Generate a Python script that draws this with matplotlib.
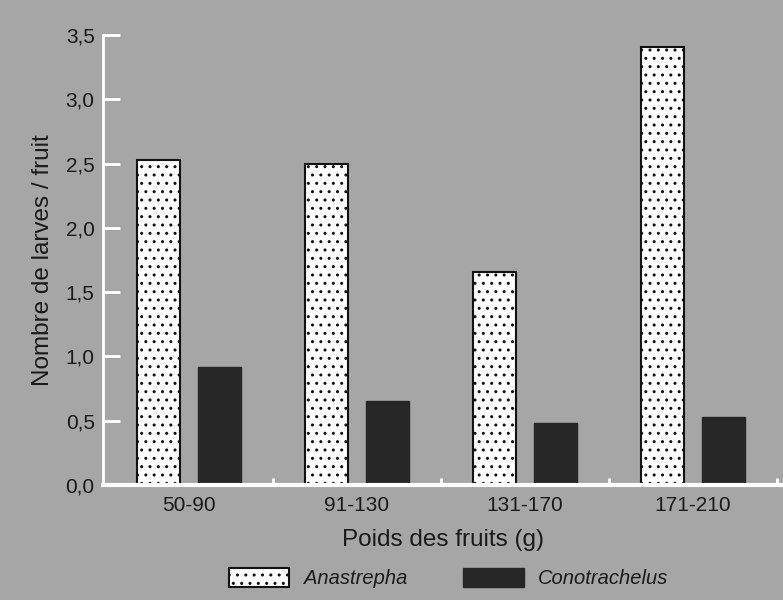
import matplotlib
matplotlib.use("Agg")
import matplotlib.pyplot as plt
import numpy as np

classes = ["50-90", "91-130", "131-170", "171-210"]
anastrepha = [2.53, 2.50, 1.66, 3.41]
conotrachelus = [0.92, 0.65, 0.48, 0.53]
yticks = [0.0, 0.5, 1.0, 1.5, 2.0, 2.5, 3.0, 3.5]

plt.rcParams['font.family'] = ['Liberation Sans', 'DejaVu Sans']
plt.rcParams['hatch.linewidth'] = 1.0

bg = '#a6a6a6'
fig = plt.figure(figsize=(7.83, 6.0), dpi=100, facecolor=bg)
ax = fig.add_axes([0.1315, 0.1917, 0.8685, 0.75])
ax.set_facecolor(bg)

x = np.arange(len(classes))
w = 0.256
ax.bar(x - 0.18, anastrepha, w, facecolor='white', edgecolor='#111111',
       linewidth=1.5, hatch='..', label='Anastrepha')
ax.bar(x + 0.18, conotrachelus, w, facecolor='#262626', edgecolor='#262626',
       label='Conotrachelus')

ax.set_xlim(-0.512, 3.536)
ax.set_ylim(0, 3.5)
ax.set_yticks(yticks)
ax.set_yticklabels([f"{v:.1f}".replace('.', ',') for v in yticks], fontsize=15, color='#1a1a1a')
ax.set_xticks(x)
ax.set_xticklabels(classes, fontsize=15, color='#1a1a1a')
ax.set_xticks(x + 0.5, minor=True)
ax.tick_params(axis='y', direction='in', length=12, width=2, colors='white', labelcolor='#1a1a1a', pad=6)
ax.tick_params(axis='x', which='major', length=0, pad=8)
ax.tick_params(axis='x', which='minor', direction='in', length=5, width=2, colors='white')

for s in ['top', 'right']:
    ax.spines[s].set_visible(False)
ax.spines['left'].set_color('white')
ax.spines['left'].set_linewidth(2)
ax.spines['bottom'].set_color('white')
ax.spines['bottom'].set_linewidth(3)

ax.set_xlabel('Poids des fruits (g)', fontsize=17.5, color='#1a1a1a', labelpad=10)
ax.set_ylabel('Nombre de larves / fruit', fontsize=17.5, color='#1a1a1a', labelpad=8)

handles, labels = ax.get_legend_handles_labels()
leg = fig.legend(handles, labels, loc='center', bbox_to_anchor=(0.573, 0.037), ncol=2,
                 frameon=False, prop={'style': 'italic', 'size': 14.5}, handlelength=3,
                 handleheight=1.1, columnspacing=2.8, handletextpad=0.7)
for t in leg.get_texts():
    t.set_color('#1a1a1a')

fig.savefig('out.png', dpi=100, facecolor=bg)
